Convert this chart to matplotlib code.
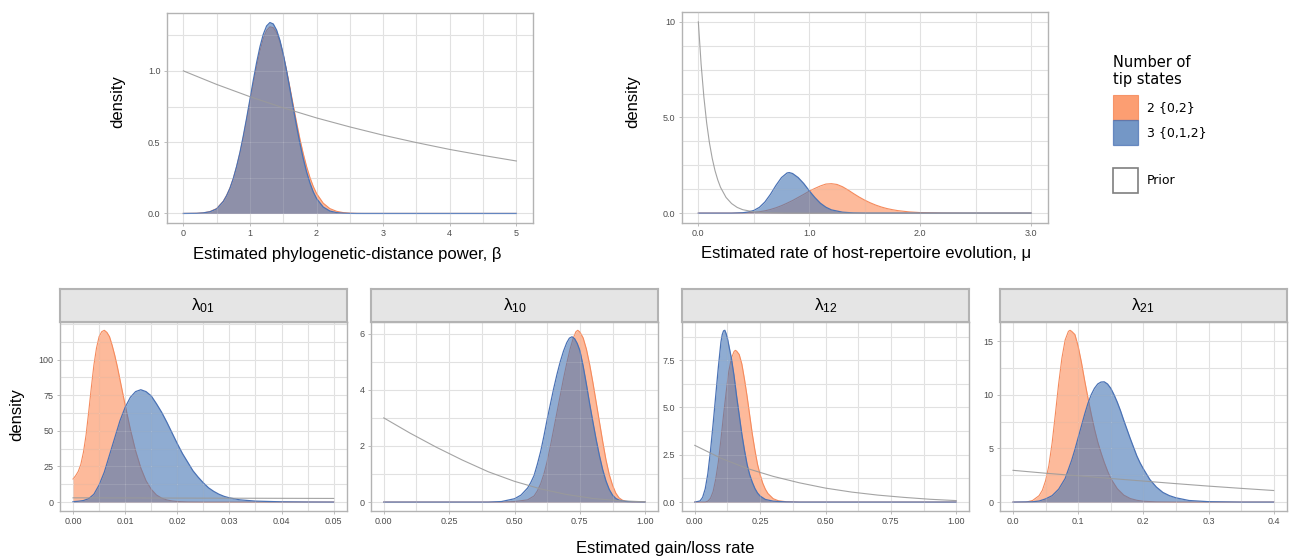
import matplotlib
matplotlib.use("Agg")
import matplotlib.pyplot as plt
from matplotlib.patches import Rectangle

plt.rcParams['font.family'] = ['Liberation Sans', 'DejaVu Sans']
plt.rcParams['mathtext.fontset'] = 'custom'
plt.rcParams['mathtext.rm'] = 'Liberation Sans'
plt.rcParams['mathtext.it'] = 'Liberation Sans:italic'

# ---------------- posterior / prior densities ----------------
# beta: phylogenetic-distance power
beta_x2 = [0.0, 0.2, 0.3, 0.4, 0.5, 0.6, 0.65, 0.7, 0.75, 0.8, 0.85, 0.9, 0.95, 1.0, 1.05, 1.1,
           1.15, 1.2, 1.25, 1.3, 1.35, 1.4, 1.45, 1.5, 1.55, 1.6, 1.65, 1.7, 1.75, 1.8, 1.85, 1.9,
           1.95, 2.0, 2.1, 2.2, 2.3, 2.4, 2.5, 2.6, 2.7, 5.0]
beta_y2 = [0.0, 0.001, 0.004, 0.013, 0.034, 0.086, 0.127, 0.178, 0.245, 0.327, 0.422, 0.533, 0.655,
           0.783, 0.910, 1.032, 1.138, 1.226, 1.283, 1.309, 1.303, 1.268, 1.203, 1.113, 1.003,
           0.883, 0.760, 0.638, 0.523, 0.420, 0.330, 0.253, 0.190, 0.140, 0.072, 0.034, 0.015,
           0.006, 0.002, 0.0005, 0.0, 0.0]
beta_x3 = [0.0, 0.2, 0.3, 0.4, 0.5, 0.6, 0.65, 0.7, 0.75, 0.8, 0.85, 0.9, 0.95, 1.0, 1.05, 1.1,
           1.15, 1.2, 1.25, 1.3, 1.35, 1.4, 1.45, 1.5, 1.55, 1.6, 1.65, 1.7, 1.75, 1.8, 1.85, 1.9,
           1.95, 2.0, 2.1, 2.2, 2.3, 2.4, 2.5, 2.6, 5.0]
beta_y3 = [0.0, 0.001, 0.004, 0.012, 0.032, 0.084, 0.125, 0.177, 0.245, 0.330, 0.428, 0.543, 0.668,
           0.800, 0.933, 1.058, 1.168, 1.256, 1.315, 1.339, 1.329, 1.286, 1.214, 1.117, 1.000,
           0.872, 0.740, 0.612, 0.492, 0.385, 0.292, 0.215, 0.152, 0.105, 0.045, 0.017, 0.006,
           0.002, 0.0005, 0.0, 0.0]
beta_xp = [0.0, 0.5, 1.0, 1.5, 2.0, 2.5, 3.0, 3.5, 4.0, 4.5, 5.0]
beta_yp = [1.0, 0.905, 0.819, 0.741, 0.670, 0.607, 0.549, 0.497, 0.449, 0.407, 0.368]

# mu: rate of host-repertoire evolution
mu_x2 = [0.0, 0.3, 0.4, 0.5, 0.55, 0.6, 0.65, 0.7, 0.75, 0.8, 0.85, 0.9, 0.95, 1.0, 1.05, 1.1,
         1.15, 1.2, 1.25, 1.3, 1.35, 1.4, 1.45, 1.5, 1.55, 1.6, 1.65, 1.7, 1.75, 1.8, 1.9, 2.0,
         2.2, 2.4, 3.0]
mu_y2 = [0.0, 0.0, 0.01, 0.04, 0.075, 0.12, 0.19, 0.28, 0.39, 0.52, 0.66, 0.82, 0.98, 1.15, 1.29,
         1.42, 1.52, 1.54, 1.50, 1.38, 1.21, 1.02, 0.84, 0.68, 0.54, 0.42, 0.32, 0.24, 0.18, 0.13,
         0.065, 0.03, 0.006, 0.0, 0.0]
mu_x3 = [0.0, 0.3, 0.4, 0.45, 0.5, 0.55, 0.6, 0.65, 0.7, 0.75, 0.8, 0.82, 0.85, 0.9, 0.95, 1.0,
         1.05, 1.1, 1.15, 1.2, 1.3, 1.4, 1.5, 3.0]
mu_y3 = [0.0, 0.0, 0.02, 0.06, 0.14, 0.30, 0.58, 0.98, 1.45, 1.86, 2.10, 2.12, 2.07, 1.86, 1.55,
         1.17, 0.82, 0.52, 0.31, 0.17, 0.05, 0.01, 0.0, 0.0]
mu_xp = [0.0, 0.025, 0.05, 0.075, 0.1, 0.125, 0.15, 0.175, 0.2, 0.25, 0.3, 0.35, 0.4, 0.5,
         0.6, 0.8, 1.0, 3.0]
mu_yp = [10.0, 7.79, 6.07, 4.72, 3.68, 2.87, 2.23, 1.74, 1.35, 0.82, 0.50, 0.30, 0.18, 0.067,
         0.025, 0.003, 0.0005, 0.0]

# lambda_01
l01_x2 = [0.0, 0.0005, 0.001, 0.0015, 0.002, 0.0025, 0.003, 0.0035, 0.004, 0.0045, 0.005, 0.0055,
          0.006, 0.0065, 0.007, 0.0075, 0.008, 0.0085, 0.009, 0.0095, 0.010, 0.011, 0.012, 0.013,
          0.014, 0.015, 0.016, 0.017, 0.018, 0.019, 0.020, 0.022, 0.025, 0.05]
l01_y2 = [16.2, 18.5, 21.5, 26.5, 35, 47, 63, 80, 96, 108, 116, 119.5, 120.5, 119, 116, 110, 103,
          95, 86, 77, 68, 51, 36, 24, 15, 9, 5, 2.8, 1.5, 0.8, 0.4, 0.1, 0.0, 0.0]
l01_x3 = [0.0, 0.001, 0.002, 0.003, 0.004, 0.005, 0.006, 0.007, 0.008, 0.009, 0.010, 0.011, 0.012,
          0.013, 0.014, 0.015, 0.016, 0.017, 0.018, 0.019, 0.020, 0.021, 0.022, 0.023, 0.024, 0.025,
          0.026, 0.027, 0.028, 0.029, 0.030, 0.032, 0.035, 0.040, 0.045, 0.050]
l01_y3 = [0.3, 0.6, 1.1, 2.4, 5.5, 12, 21, 33, 45, 57, 66.5, 73.5, 77.5, 78.8, 77.5, 74.5, 69, 63,
          56, 48.5, 41, 34, 28, 22, 17.5, 13.5, 10, 7.5, 5.5, 4, 3, 1.6, 0.7, 0.2, 0.05, 0.0]
l01_xp = [0.0, 0.025, 0.05]
l01_yp = [3.0, 2.78, 2.58]

# lambda_10
l10_x2 = [0.0, 0.45, 0.50, 0.55, 0.575, 0.5875, 0.60, 0.6125, 0.625, 0.6375, 0.65, 0.6625, 0.675,
          0.6875, 0.70, 0.7125, 0.725, 0.735, 0.742, 0.75, 0.7625, 0.775, 0.7875, 0.80, 0.8125,
          0.825, 0.8375, 0.85, 0.8625, 0.875, 0.8875, 0.90, 0.9125, 0.925, 0.95, 1.0]
l10_y2 = [0.0, 0.0, 0.02, 0.08, 0.22, 0.4, 0.65, 1.0, 1.45, 2.0, 2.6, 3.2, 3.8, 4.4, 4.95, 5.45,
          5.85, 6.07, 6.12, 6.06, 5.85, 5.45, 4.9, 4.25, 3.55, 2.85, 2.15, 1.5, 0.98, 0.6, 0.32,
          0.15, 0.07, 0.03, 0.0, 0.0]
l10_x3 = [0.0, 0.40, 0.45, 0.50, 0.525, 0.55, 0.5625, 0.575, 0.5875, 0.60, 0.6125, 0.625, 0.6375,
          0.65, 0.6625, 0.675, 0.6875, 0.70, 0.71, 0.72, 0.73, 0.74, 0.75, 0.7625, 0.775, 0.7875,
          0.80, 0.8125, 0.825, 0.8375, 0.85, 0.8625, 0.875, 0.8875, 0.90, 0.925, 0.95, 1.0]
l10_y3 = [0.0, 0.0, 0.02, 0.12, 0.25, 0.5, 0.7, 0.95, 1.35, 1.8, 2.35, 2.95, 3.5, 4.05, 4.55, 5.0,
          5.38, 5.68, 5.84, 5.89, 5.82, 5.65, 5.4, 4.85, 4.2, 3.5, 2.85, 2.22, 1.65, 1.15, 0.75,
          0.45, 0.25, 0.13, 0.07, 0.025, 0.01, 0.0]
l10_xp = [0.0, 0.1, 0.2, 0.3, 0.4, 0.5, 0.6, 0.7, 0.8, 0.9, 1.0]
l10_yp = [3.0, 2.46, 1.96, 1.50, 1.08, 0.74, 0.47, 0.27, 0.13, 0.05, 0.01]

# lambda_12
l12_x2 = [0.0, 0.04, 0.05, 0.06, 0.07, 0.08, 0.09, 0.10, 0.11, 0.12, 0.13, 0.14, 0.15, 0.155, 0.16,
          0.17, 0.18, 0.19, 0.20, 0.21, 0.22, 0.23, 0.24, 0.25, 0.26, 0.27, 0.28, 0.30, 0.32, 0.35,
          0.40, 1.0]
l12_y2 = [0.0, 0.0, 0.05, 0.2, 0.55, 1.2, 2.1, 3.3, 4.6, 5.8, 6.9, 7.6, 7.95, 8.02, 7.98, 7.8, 7.3,
          6.5, 5.6, 4.6, 3.6, 2.75, 2.0, 1.45, 1.0, 0.68, 0.45, 0.18, 0.07, 0.02, 0.0, 0.0]
l12_x3 = [0.0, 0.02, 0.03, 0.04, 0.05, 0.06, 0.07, 0.08, 0.09, 0.10, 0.105, 0.11, 0.115, 0.12,
          0.125, 0.13, 0.14, 0.15, 0.16, 0.17, 0.18, 0.19, 0.20, 0.21, 0.22, 0.23, 0.24, 0.25, 0.27,
          0.30, 0.35, 0.40, 1.0]
l12_y3 = [0.0, 0.06, 0.25, 0.7, 1.5, 2.7, 4.1, 5.6, 7.1, 8.45, 8.85, 9.05, 9.08, 8.9, 8.65, 8.3,
          7.6, 6.7, 5.6, 4.6, 3.6, 2.75, 2.0, 1.45, 1.05, 0.72, 0.48, 0.32, 0.14, 0.05, 0.01, 0.0,
          0.0]
l12_xp = [0.0, 0.1, 0.2, 0.3, 0.4, 0.5, 0.6, 0.7, 0.8, 0.9, 1.0]
l12_yp = [3.0, 2.32, 1.78, 1.36, 1.02, 0.74, 0.53, 0.37, 0.25, 0.15, 0.08]

# lambda_21
l21_x2 = [0.0, 0.02, 0.03, 0.04, 0.045, 0.05, 0.055, 0.06, 0.065, 0.07, 0.075, 0.08, 0.085,
          0.0875, 0.09, 0.095, 0.10, 0.105, 0.11, 0.115, 0.12, 0.125, 0.13, 0.135, 0.14, 0.145,
          0.15, 0.16, 0.17, 0.18, 0.19, 0.20, 0.22, 0.25, 0.40]
l21_y2 = [0.0, 0.0, 0.15, 0.6, 1.1, 2.0, 3.4, 5.5, 8.2, 11.0, 13.4, 15.1, 15.9, 16.0, 15.9, 15.6,
          14.5, 13.0, 11.3, 9.7, 8.2, 6.8, 5.6, 4.6, 3.7, 2.9, 2.2, 1.25, 0.65, 0.33, 0.17, 0.08,
          0.02, 0.0, 0.0]
l21_x3 = [0.0, 0.03, 0.04, 0.05, 0.06, 0.07, 0.08, 0.09, 0.095, 0.10, 0.105, 0.11, 0.115, 0.12,
          0.125, 0.13, 0.135, 0.14, 0.145, 0.15, 0.155, 0.16, 0.165, 0.17, 0.175, 0.18, 0.185,
          0.19, 0.195, 0.20, 0.21, 0.22, 0.23, 0.24, 0.25, 0.27, 0.30, 0.35, 0.40]
l21_y3 = [0.0, 0.03, 0.1, 0.3, 0.6, 1.2, 2.2, 3.9, 4.9, 6.0, 7.1, 8.2, 9.2, 10.0, 10.6, 11.0,
          11.18, 11.2, 11.0, 10.6, 10.0, 9.3, 8.5, 7.6, 6.75, 5.9, 5.1, 4.3, 3.65, 3.1, 2.1, 1.4,
          0.9, 0.6, 0.4, 0.15, 0.04, 0.0, 0.0]
l21_xp = [0.0, 0.05, 0.1, 0.15, 0.2, 0.25, 0.3, 0.35, 0.4]
l21_yp = [2.96, 2.69, 2.45, 2.20, 1.96, 1.72, 1.49, 1.28, 1.08]

legend_title = "Number of\ntip states"
legend_labels = ["2 {0,2}", "3 {0,1,2}", "Prior"]

# ---------------- styling ----------------
W, H = 1291, 560
ORANGE, BLUE = '#FC8D59', '#4575B4'
ORANGE_LINE, BLUE_LINE = '#F58A5C', '#4A72B5'
PRIOR_COL = '#9A9A9A'
GRID = '#DCDCDC'
FRAME = '#B3B3B3'
TICKTXT = '#4D4D4D'

fig = plt.figure(figsize=(W / 100, H / 100), dpi=100)


def px_axes(left, top, right, bottom, **kw):
    return fig.add_axes([left / W, 1 - bottom / H, (right - left) / W, (bottom - top) / H], **kw)


def draw_panel(ax, x2, y2, x3, y3, xp, yp, xr, xticks, xlabels, yticks, ylabels, xstep, ystep):
    ymax = max(max(y2), max(y3), max(yp))
    span = xr[1] - xr[0]
    x0, x1 = xr[0] - 0.05 * span, xr[1] + 0.05 * span
    y0, y1 = -0.05 * ymax, 1.05 * ymax
    ax.set_xlim(x0, x1)
    ax.set_ylim(y0, y1)

    # grid lines
    gx, gy = [], []
    v = xr[0]
    while v <= xr[1] + 1e-9:
        gx.append(v)
        v += xstep
    v = 0.0
    while v <= y1:
        gy.append(v)
        v += ystep
    ax.vlines(gx, y0, y1, color=GRID, lw=0.8, zorder=0)
    ax.hlines(gy, x0, x1, color=GRID, lw=0.8, zorder=0)

    ax.fill_between(x2, y2, 0, color=ORANGE, alpha=0.6, lw=0, zorder=1)
    ax.plot(x2, y2, color=ORANGE_LINE, lw=0.8, zorder=1.5)
    ax.fill_between(x3, y3, 0, color=BLUE, alpha=0.6, lw=0, zorder=2)
    ax.plot(x3, y3, color=BLUE_LINE, lw=0.9, zorder=2.5)

    # light grid sheen on top of the filled areas
    ax.vlines(gx, y0, y1, color='white', lw=0.8, alpha=0.15, zorder=3)
    ax.hlines(gy, x0, x1, color='white', lw=0.8, alpha=0.15, zorder=3)

    ax.plot(xp, yp, color=PRIOR_COL, lw=0.8, alpha=0.9, zorder=4)

    ax.set_xticks(xticks)
    ax.set_xticklabels(xlabels)
    ax.set_yticks(yticks)
    ax.set_yticklabels(ylabels)
    ax.tick_params(length=2.5, width=0.6, color=FRAME, labelsize=6.5,
                   labelcolor=TICKTXT, pad=2)
    for s in ax.spines.values():
        s.set_color(FRAME)
        s.set_linewidth(1.0)


# ---------------- top row ----------------
ax_b = px_axes(166.7, 13, 533, 223)
draw_panel(ax_b, beta_x2, beta_y2, beta_x3, beta_y3, beta_xp, beta_yp, (0, 5),
           [0, 1, 2, 3, 4, 5], ['0', '1', '2', '3', '4', '5'],
           [0, 0.5, 1.0], ['0.0', '0.5', '1.0'], 0.5, 0.25)

ax_m = px_axes(681.7, 12.3, 1047.7, 222.7)
draw_panel(ax_m, mu_x2, mu_y2, mu_x3, mu_y3, mu_xp, mu_yp, (0, 3),
           [0, 1, 2, 3], ['0.0', '1.0', '2.0', '3.0'],
           [0, 5, 10], ['0.0', '5.0', '10'], 0.5, 1.25)

fig.text(118 / W, 1 - 102 / H, 'density', rotation=90, ha='center', va='center', fontsize=12)
fig.text(633 / W, 1 - 102 / H, 'density', rotation=90, ha='center', va='center', fontsize=12)
fig.text(347 / W, 1 - 255 / H, 'Estimated phylogenetic-distance power, β',
         ha='center', va='center', fontsize=12)
fig.text(866 / W, 1 - 254 / H, 'Estimated rate of host-repertoire evolution, μ',
         ha='center', va='center', fontsize=12)

# ---------------- bottom row ----------------
bottom_specs = [
    ((60, 346.7), r'$\mathrm{λ}_{\mathrm{01}}$', l01_x2, l01_y2, l01_x3, l01_y3, l01_xp, l01_yp,
     (0, 0.05), [0, 0.01, 0.02, 0.03, 0.04, 0.05], ['0.00', '0.01', '0.02', '0.03', '0.04', '0.05'],
     [0, 25, 50, 75, 100], ['0', '25', '50', '75', '100'], 0.005, 12.5),
    ((370.7, 658.3), r'$\mathrm{λ}_{\mathrm{10}}$', l10_x2, l10_y2, l10_x3, l10_y3, l10_xp, l10_yp,
     (0, 1), [0, 0.25, 0.5, 0.75, 1.0], ['0.00', '0.25', '0.50', '0.75', '1.00'],
     [0, 2, 4, 6], ['0', '2', '4', '6'], 0.125, 1.0),
    ((681.7, 969.3), r'$\mathrm{λ}_{\mathrm{12}}$', l12_x2, l12_y2, l12_x3, l12_y3, l12_xp, l12_yp,
     (0, 1), [0, 0.25, 0.5, 0.75, 1.0], ['0.00', '0.25', '0.50', '0.75', '1.00'],
     [0, 2.5, 5, 7.5], ['0.0', '2.5', '5.0', '7.5'], 0.125, 1.25),
    ((1000, 1286.7), r'$\mathrm{λ}_{\mathrm{21}}$', l21_x2, l21_y2, l21_x3, l21_y3, l21_xp, l21_yp,
     (0, 0.4), [0, 0.1, 0.2, 0.3, 0.4], ['0.0', '0.1', '0.2', '0.3', '0.4'],
     [0, 5, 10, 15], ['0', '5', '10', '15'], 0.05, 2.5),
]

for (lx, rx), title, x2, y2, x3, y3, xp, yp, xr, xt, xl, yt, yl, xs, ys in bottom_specs:
    ax = px_axes(lx, 321.7, rx, 510.7)
    draw_panel(ax, x2, y2, x3, y3, xp, yp, xr, xt, xl, yt, yl, xs, ys)
    strip = px_axes(lx, 289.3, rx, 321.7)
    strip.set_facecolor('#E5E5E5')
    strip.set_xticks([])
    strip.set_yticks([])
    for s in strip.spines.values():
        s.set_color(FRAME)
        s.set_linewidth(1.5)
    strip.text(0.5, 0.5, title, ha='center', va='center', fontsize=12.5,
               transform=strip.transAxes)

fig.text(17 / W, 1 - 415 / H, 'density', rotation=90, ha='center', va='center', fontsize=12)
fig.text(665 / W, 1 - 548 / H, 'Estimated gain/loss rate', ha='center', va='center', fontsize=12)

# ---------------- legend ----------------
def fig_rect(left, top, right, bottom, **kw):
    fig.patches.append(Rectangle((left / W, 1 - bottom / H), (right - left) / W, (bottom - top) / H,
                                 transform=fig.transFigure, figure=fig, **kw))


fig.text(1113.3 / W, 1 - 71 / H, legend_title, ha='left', va='center', fontsize=10.5,
         family='DejaVu Sans', linespacing=1.1)
fig_rect(1113.3, 95, 1137.7, 120, facecolor=ORANGE, alpha=0.85, edgecolor=ORANGE_LINE, lw=0.8)
fig_rect(1113.3, 120, 1137.7, 145, facecolor=BLUE, alpha=0.75, edgecolor=BLUE_LINE, lw=0.9)
fig_rect(1113.3, 168, 1137.7, 192.7, facecolor='white', edgecolor='#7F7F7F', lw=1.2)
for label, yc in zip(legend_labels, [108, 132.5, 180.5]):
    fig.text(1146.7 / W, 1 - yc / H, label, ha='left', va='center', fontsize=9,
             family='DejaVu Sans')

fig.savefig('out.png', dpi=100)
